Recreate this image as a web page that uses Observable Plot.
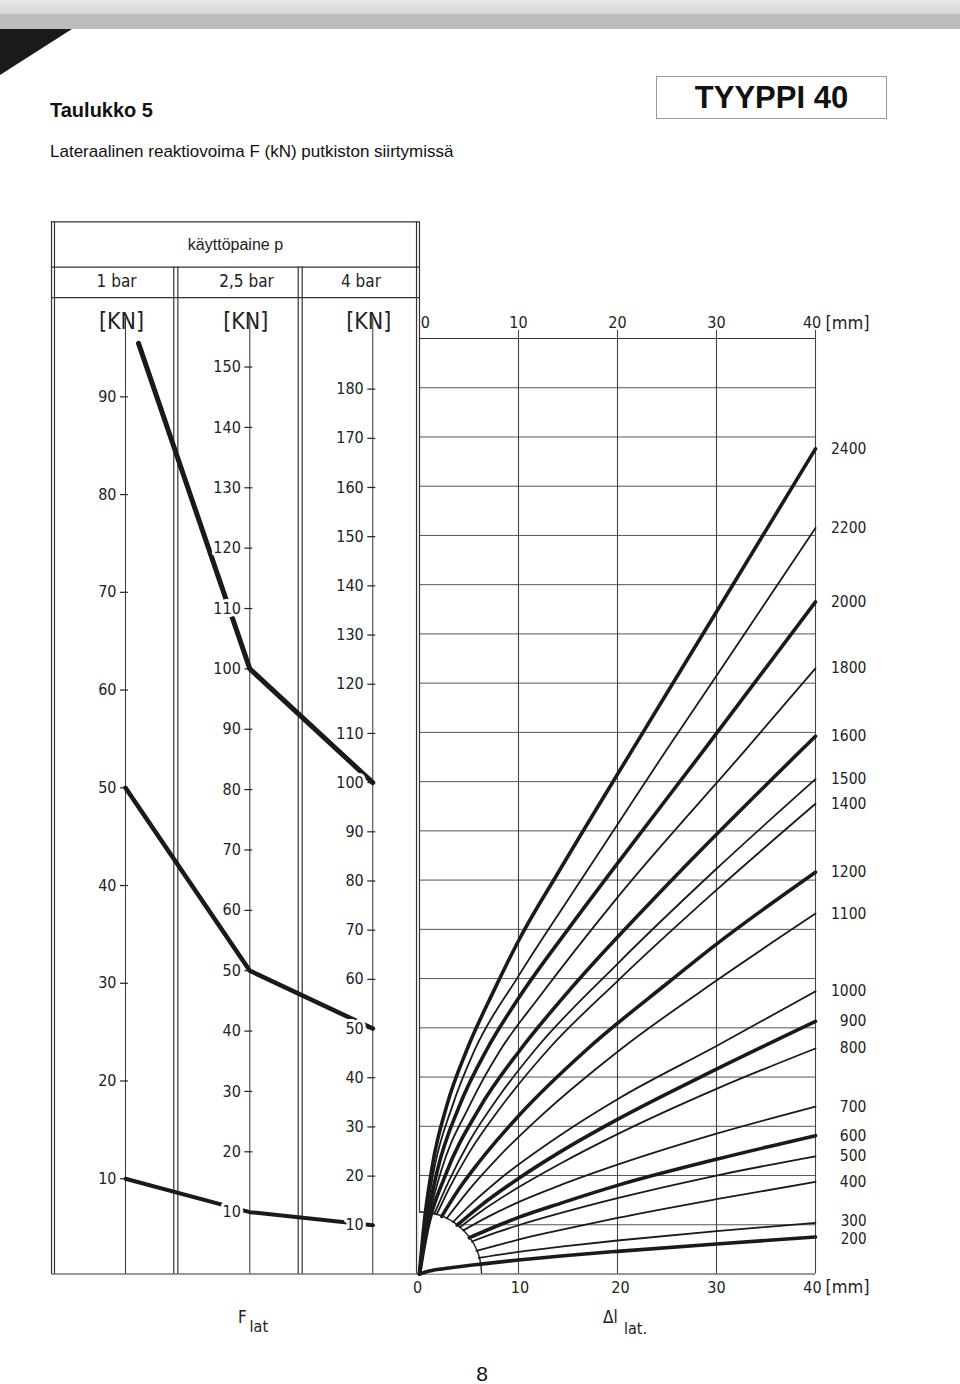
<!DOCTYPE html>
<html><head><meta charset="utf-8">
<script src="https://cdn.jsdelivr.net/npm/d3@7"></script>
<script src="https://cdn.jsdelivr.net/npm/@observablehq/plot@0.6"></script>
<style>
body{margin:0;background:#fff;}
#page{position:relative;width:960px;height:1384px;overflow:hidden;font-family:"Liberation Sans",Arial,sans-serif;color:#111;}
.band1{position:absolute;left:0;top:0;width:960px;height:14px;background:linear-gradient(#e8e8e8,#d6d6d6);}
.band2{position:absolute;left:0;top:14px;width:960px;height:15px;background:#bdbdbd;}
.tri{position:absolute;left:0;top:29px;width:0;height:0;border-top:46px solid #1a1a1a;border-right:72px solid transparent;}
.title{position:absolute;left:50px;top:99px;font-size:20px;font-weight:bold;line-height:22px;}
.sub{position:absolute;left:50px;top:142px;font-size:17px;line-height:20px;}
.box{position:absolute;left:656px;top:76px;width:231px;height:43px;box-sizing:border-box;border:1px solid #9a9a9a;text-align:center;font-weight:bold;font-size:31px;line-height:41px;}
.pnum{position:absolute;left:462px;top:1363px;width:40px;text-align:center;font-size:21px;line-height:22px;}
#chart{position:absolute;left:0;top:200px;}
</style></head>
<body><div id="page">
<div class="band1"></div><div class="band2"></div><div class="tri"></div>
<div class="title">Taulukko 5</div>
<div class="sub">Lateraalinen reaktiovoima F (kN) putkiston siirtymissä</div>
<div class="box">TYYPPI 40</div>
<div id="chart"></div>
<div class="pnum">8</div>
</div>
<script>
// ---------------- data ----------------
const pressures = ["1 bar", "2,5 bar", "4 bar"];
const ticks1 = [10, 20, 30, 40, 50, 60, 70, 80, 90];
const ticks25 = [10, 20, 30, 40, 50, 60, 70, 80, 90, 100, 110, 120, 130, 140, 150];
const ticks4 = [10, 20, 30, 40, 50, 60, 70, 80, 90, 100, 110, 120, 130, 140, 150, 160, 170, 180];
const mmTicks = [0, 10, 20, 30, 40];
const gridF = [10, 20, 30, 40, 50, 60, 70, 80, 90, 100, 110, 120, 130, 140, 150, 160, 170, 180];

// left conversion lines: [pressure, kN] vertices (first point of A is free)
const lineA = [{x: -28.38, y: 189.0}, {p: "2,5 bar", v: 100}, {p: "4 bar", v: 100}];
const lineB = [{p: "1 bar", v: 50}, {p: "2,5 bar", v: 50}, {p: "4 bar", v: 50}];
const lineC = [{p: "1 bar", v: 10}, {p: "2,5 bar", v: 10}, {p: "4 bar", v: 10}];

// right panel: nominal sizes and [Δl mm, F] points
const dnLabels = [2400, 2200, 2000, 1800, 1600, 1500, 1400, 1200, 1100, 1000, 900, 800, 700, 600, 500, 400, 300, 200];
const thickDN = [2400, 2000, 1600, 1200, 900, 600, 200];
const dn2400 = [[0,0],[0.4,9],[1.3,22],[2.8,34.5],[4.8,45.6],[7.5,57.5],[10.3,68.8],[14,81.5],[21.3,105.8],[30,134.5],[40,167.6]];
const dn2200 = [[0,0],[0.5,9],[1.5,21.5],[3.3,34],[5.6,45.6],[10,60.5],[15,76],[20,91.3],[25,106.6],[30,121.5],[40,151.5]];
const dn2000 = [[0,0],[0.6,9],[1.8,21],[4,34],[6.8,45.6],[10,56],[15,70],[20,83.4],[28.8,106.6],[40,136.5]];
const dn1800 = [[0,0],[0.7,9],[2.2,21],[5,34],[8.2,45.6],[12,56],[20,76.5],[33,106.6],[40,123]];
const dn1600 = [[0,0],[0.8,9],[2.6,20],[6,33.5],[10.2,45.6],[15,57.3],[25,79],[40,109.2]];
const dn1500 = [[1.5,12.2],[3,19],[5,26.8],[8,36],[11.7,45.6],[20,63],[30,82.3],[40,100.5]];
const dn1400 = [[1.74,12.1],[3,17.4],[5,24.6],[8,33.3],[13,45.6],[20,59.5],[30,78],[40,95.5]];
const dn1200 = [[2.25,11.7],[4,17.3],[6,22.7],[10,32.1],[16.9,45.6],[25,59],[30,67],[40,81.6]];
const dn1100 = [[2.75,11.3],[5,17.1],[8,23.8],[12,31.6],[20.3,45.6],[30,59.6],[40,73.2]];
const dn1000 = [[3.38,10.55],[5,13.8],[8,19.1],[14.3,28.3],[20,35.5],[30,46.3],[40,57.4]];
const dn900  = [[3.8,9.93],[6,13.6],[10,19.4],[14.3,24.9],[20,31.4],[30,41.6],[40,51.3]];
const dn800  = [[4.08,9.5],[6,12.4],[10,17.6],[14.3,22.5],[20,28.4],[30,37.6],[40,45.8]];
const dn700  = [[4.42,8.85],[7,11.7],[10,14.6],[14.3,18.1],[20,22.2],[30,28.5],[40,34.0]];
const dn600  = [[5.03,7.36],[8,9.9],[10,11.5],[14.3,14.4],[20,18.0],[30,23.3],[40,28.1]];
const dn500  = [[5.28,6.6],[8,8.6],[10,9.9],[14.3,12.4],[20,15.4],[30,20.0],[40,23.9]];
const dn400  = [[5.75,4.68],[8,5.9],[10,7.0],[14.3,8.95],[20,11.4],[30,15.2],[40,18.7]];
const dn300  = [[5.98,3.28],[10,4.5],[14.3,5.56],[20,6.8],[30,8.7],[40,10.4]];
const dn200  = [[0,0],[1,0.6],[3,1.2],[6.2,2.0],[10,2.85],[14.3,3.66],[20,4.6],[30,6.1],[40,7.5]];

// ---------------- layout helpers ----------------
const cols = {
  "1 bar":   {x: -29.7,  k: 1.985, b: -0.5, labelX: -30.6},
  "2,5 bar": {x: -17.14, k: 1.226, b: 0.3,  labelX: -17.47},
  "4 bar":   {x: -4.72,  k: 0.999, b: -0.1, labelX: -5.91}
};
const toY = (p, v) => cols[p].k * v + cols[p].b;
const tickRows = [
  ...ticks1.map(v => ({p: "1 bar", v})),
  ...ticks25.map(v => ({p: "2,5 bar", v})),
  ...ticks4.map(v => ({p: "4 bar", v}))
].map(d => ({...d, x: cols[d.p].x, y: toY(d.p, d.v)}));

const lineRows = [["A", lineA], ["B", lineB], ["C", lineC]].flatMap(([id, pts]) =>
  pts.map(d => d.p ? {id, x: cols[d.p].x, y: toY(d.p, d.v)} : {id, x: d.x, y: d.y}));

const curveList = {2400: dn2400, 2200: dn2200, 2000: dn2000, 1800: dn1800, 1600: dn1600, 1500: dn1500,
  1400: dn1400, 1200: dn1200, 1100: dn1100, 1000: dn1000, 900: dn900, 800: dn800, 700: dn700,
  600: dn600, 500: dn500, 400: dn400, 300: dn300, 200: dn200};
const curveRows = dnLabels.flatMap(dn => curveList[dn].map(([dl, f]) => ({dn, dl, f, thick: thickDN.includes(dn)})));
const endRows = dnLabels.map(dn => ({dn, f: curveList[dn][curveList[dn].length - 1][1]}));

// frame structure (positions in mm / F units of the common scales)
const L = -37.17, L2 = -36.87, TOP = 213.7, ROW1 = 204.5, ROW2 = 198.3;
const vRules = [
  {x: L, y1: 0, y2: TOP}, {x: L2, y1: 0, y2: TOP},
  {x: -24.82, y1: 0, y2: ROW1}, {x: -24.41, y1: 0, y2: ROW1},
  {x: -12.25, y1: 0, y2: ROW1}, {x: -11.85, y1: 0, y2: ROW1},
  {x: -0.3, y1: 0, y2: TOP}, {x: 0, y1: 0, y2: TOP}
];
const hRules = [
  {y: TOP, x1: L, x2: 0}, {y: ROW1, x1: L, x2: 0}, {y: ROW2, x1: L, x2: 0},
  {y: 0, x1: L, x2: 40}, {y: 190, x1: 0, x2: 40}
];
const topShift = [0.6, 0, 0, 0, -0.35];
const botShift = [-0.2, 0.15, 0.3, 0, -0.3];

const ISO = "DejaVu Sans Condensed, DejaVu Sans, sans-serif";
const INK = "#1a1a1a";
const TXT = {fontFamily: ISO, fill: "#222"};

const chart = Plot.plot({
  width: 960, height: 1150,
  marginLeft: 419, marginRight: 145, marginTop: 138, marginBottom: 76.5,
  x: {domain: [0, 40], axis: null},
  y: {domain: [0, 190], axis: null},
  style: {background: "transparent", overflow: "visible", fontFamily: ISO},
  marks: [
    // right panel grid
    Plot.ruleY(gridF, {x1: 0, x2: 40, stroke: "#555", strokeWidth: 1}),
    Plot.ruleX(mmTicks.slice(1), {y1: 0, y2: 191.7, stroke: "#444", strokeWidth: 1.1}),
    // frame
    Plot.ruleX(vRules, {x: "x", y1: "y1", y2: "y2", stroke: "#333", strokeWidth: 1.2}),
    Plot.ruleY(hRules, {y: "y", x1: "x1", x2: "x2", stroke: "#333", strokeWidth: 1.2}),
    // left axes and ticks
    Plot.ruleX(pressures, {x: p => cols[p].x, y1: 0, y2: 194.2, stroke: "#333", strokeWidth: 1}),
    Plot.ruleY(tickRows, {y: "y", x1: d => d.x - 0.5, x2: d => d.x + 0.3, stroke: "#222", strokeWidth: 1.2}),
    // quarter disk at origin
    Plot.dot([{dl: 0, f: 0}], {x: "dl", y: "f", r: 62, fill: "white", stroke: "#222", strokeWidth: 1.4, clip: true}),
    // curves
    Plot.line(curveRows.filter(d => !d.thick), {x: "dl", y: "f", z: "dn", stroke: INK, strokeWidth: 1.8, curve: "monotone-x"}),
    Plot.line(curveRows.filter(d => d.thick), {x: "dl", y: "f", z: "dn", stroke: INK, strokeWidth: 3.6, curve: "monotone-x"}),
    // left conversion lines
    Plot.line(lineRows.filter(d => d.id === "A"), {x: "x", y: "y", stroke: INK, strokeWidth: 5, strokeLinecap: "round", strokeLinejoin: "round"}),
    Plot.line(lineRows.filter(d => d.id === "B"), {x: "x", y: "y", stroke: INK, strokeWidth: 4.5, strokeLinecap: "round", strokeLinejoin: "round"}),
    Plot.line(lineRows.filter(d => d.id === "C"), {x: "x", y: "y", stroke: INK, strokeWidth: 4, strokeLinecap: "round", strokeLinejoin: "round"}),
    // tick labels (white halo)
    Plot.text(tickRows, {x: "x", y: "y", text: d => String(d.v), textAnchor: "end", dx: -9, fontSize: 16, ...TXT,
      stroke: "white", strokeWidth: 6, paintOrder: "stroke"}),
    // headers
    Plot.text(["käyttöpaine p"], {x: -18.59, y: 209.0, text: d => d, fontSize: 16, fontFamily: "Liberation Sans, Arial, sans-serif", fill: "#222"}),
    Plot.text(pressures, {x: p => cols[p].labelX, y: 201.6, text: d => d, fontSize: 17, ...TXT}),
    Plot.text(pressures, {x: p => cols[p].x, y: 193.4, text: () => "[KN]", dx: -4, fontSize: 23, ...TXT}),
    // mm labels top and bottom
    Plot.text(mmTicks, {x: (d, i) => d + topShift[i], y: 193.2, text: d => String(d), fontSize: 16, ...TXT}),
    Plot.text(["[mm]"], {x: 43.23, y: 193.2, text: d => d, fontSize: 18, ...TXT}),
    Plot.text(mmTicks, {x: (d, i) => d + botShift[i], y: -2.74, text: d => String(d), fontSize: 16, ...TXT}),
    Plot.text(["[mm]"], {x: 43.23, y: -2.74, text: d => d, fontSize: 18, ...TXT}),
    // DN labels
    Plot.text(endRows.filter(d => d.dn > 300), {x: 45.15, y: "f", text: d => String(d.dn), textAnchor: "end", fontSize: 15.5, ...TXT}),
    Plot.text(endRows.filter(d => d.dn === 300), {x: 45.15, y: "f", text: d => String(d.dn), textAnchor: "end", dy: -1.5, fontSize: 15, ...TXT}),
    Plot.text(endRows.filter(d => d.dn === 200), {x: 45.15, y: "f", text: d => String(d.dn), textAnchor: "end", dy: 2, fontSize: 15, ...TXT}),
    // axis titles
    Plot.text(["F"], {x: -17.9, y: -8.94, text: d => d, fontSize: 17, ...TXT}),
    Plot.text(["lat"], {x: -16.23, y: -10.67, text: d => d, fontSize: 16, ...TXT}),
    Plot.text(["Δl"], {x: 19.29, y: -8.94, text: d => d, fontSize: 17, ...TXT}),
    Plot.text(["lat."], {x: 21.82, y: -11.07, text: d => d, fontSize: 16, ...TXT})
  ]
});
document.getElementById("chart").appendChild(chart);
</script>
</body></html>
